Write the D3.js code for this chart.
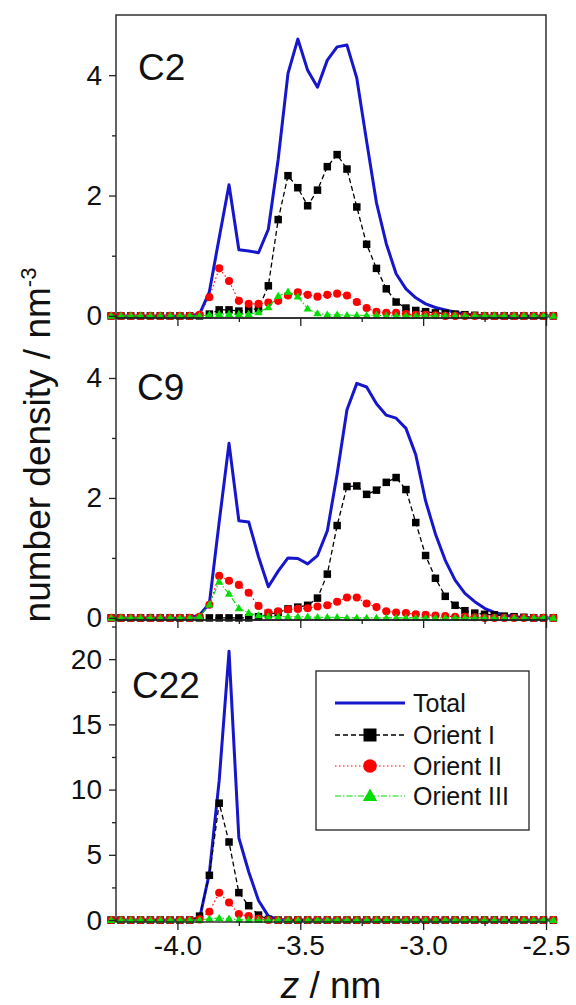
<!DOCTYPE html>
<html>
<head>
<meta charset="utf-8">
<script src="https://cdn.jsdelivr.net/npm/d3@7"></script>
<style>
  html, body { margin: 0; padding: 0; background: #fff; }
  svg { display: block; font-family: "Liberation Sans", Arial, sans-serif; }
</style>
</head>
<body>
<svg id="chart" width="576" height="1005"></svg>
<script>
// Position along the membrane normal (nm)
const zNm = [-4.27, -4.23, -4.19, -4.15, -4.11, -4.07, -4.03, -3.99, -3.95, -3.91,
             -3.87, -3.83, -3.79, -3.75, -3.71, -3.67, -3.63, -3.59, -3.55, -3.51,
             -3.47, -3.43, -3.39, -3.35, -3.31, -3.27, -3.23, -3.19, -3.15, -3.11,
             -3.07, -3.03, -2.99, -2.95, -2.91, -2.87, -2.83, -2.79, -2.75, -2.71,
             -2.67, -2.63, -2.59, -2.55, -2.51, -2.47];

// C2 number densities (nm^-3)
const c2Total   = [0, 0, 0, 0, 0, 0, 0, 0, 0, 0.03, 0.4, 1.3, 2.18, 1.1, 1.08, 1.05, 1.44, 2.6, 4.03, 4.6,
                   4.08, 3.8, 4.25, 4.47, 4.5, 3.95, 2.9, 1.88, 1.2, 0.7, 0.45, 0.3, 0.2, 0.14, 0.1, 0.06, 0.03, 0.01, 0, 0,
                   0, 0, 0, 0, 0, 0];
const c2Orient1 = [0, 0, 0, 0, 0, 0, 0, 0, 0, 0, 0.03, 0.1, 0.1, 0.08, 0.1, 0.12, 0.5, 1.6, 2.33, 2.13,
                   1.83, 2.09, 2.48, 2.68, 2.44, 1.81, 1.19, 0.79, 0.45, 0.23, 0.13, 0.09, 0.07, 0.05, 0.04, 0.03, 0.02, 0.01, 0, 0,
                   0, 0, 0, 0, 0, 0];
const c2Orient2 = [0, 0, 0, 0, 0, 0, 0, 0, 0, 0.02, 0.31, 0.79, 0.58, 0.25, 0.2, 0.2, 0.22, 0.25, 0.34, 0.39,
                   0.35, 0.32, 0.35, 0.37, 0.34, 0.23, 0.13, 0.07, 0.05, 0.05, 0.03, 0.02, 0.02, 0.01, 0, 0, 0, 0, 0, 0,
                   0, 0, 0, 0, 0, 0];
const c2Orient3 = [0, 0, 0, 0, 0, 0, 0, 0, 0, 0, 0.02, 0.03, 0.03, 0.03, 0.03, 0.06, 0.14, 0.33, 0.4, 0.32,
                   0.12, 0.04, 0.02, 0.02, 0.01, 0.01, 0.01, 0.01, 0, 0, 0, 0, 0, 0, 0, 0, 0, 0, 0, 0,
                   0, 0, 0, 0, 0, 0];

// C9 number densities (nm^-3)
const c9Total   = [0, 0, 0, 0, 0, 0, 0, 0, 0, 0.05, 0.24, 1.6, 2.91, 1.62, 1.6, 1.02, 0.52, 0.78, 1.0, 0.99,
                   0.9, 1.04, 1.45, 2.4, 3.47, 3.91, 3.85, 3.57, 3.38, 3.33, 3.16, 2.72, 1.95, 1.4, 0.96, 0.63, 0.41, 0.27, 0.16, 0.09,
                   0.05, 0.02, 0.01, 0, 0, 0];
const c9Orient1 = [0, 0, 0, 0, 0, 0, 0, 0, 0, 0, 0, 0, 0, 0, 0, 0.02, 0.06, 0.09, 0.15, 0.18,
                   0.21, 0.33, 0.73, 1.54, 2.19, 2.2, 2.06, 2.13, 2.26, 2.34, 2.14, 1.59, 1.04, 0.66, 0.36, 0.21, 0.12, 0.08, 0.06, 0.05,
                   0.03, 0.02, 0.01, 0, 0, 0];
const c9Orient2 = [0, 0, 0, 0, 0, 0, 0, 0, 0, 0.02, 0.22, 0.7, 0.62, 0.55, 0.42, 0.2, 0.09, 0.11, 0.14, 0.15,
                   0.16, 0.19, 0.21, 0.27, 0.34, 0.34, 0.24, 0.18, 0.11, 0.09, 0.08, 0.06, 0.05, 0.04, 0.03, 0.02, 0.02, 0.01, 0, 0,
                   0, 0, 0, 0, 0, 0];
const c9Orient3 = [0, 0, 0, 0, 0, 0, 0, 0, 0, 0.02, 0.22, 0.6, 0.4, 0.16, 0.08, 0.04, 0.02, 0.02, 0.02, 0.02,
                   0.02, 0.01, 0.01, 0.01, 0, 0, 0, 0, 0, 0, 0, 0, 0, 0, 0, 0, 0, 0, 0, 0,
                   0, 0, 0, 0, 0, 0];

// C22 number densities (nm^-3)
const c22Total   = [0, 0, 0, 0, 0, 0, 0, 0, 0, 0.1, 3.6, 10.7, 20.6, 6.3, 3.7, 1.5, 0.3, 0.05, 0, 0,
                    0, 0, 0, 0, 0, 0, 0, 0, 0, 0, 0, 0, 0, 0, 0, 0, 0, 0, 0, 0,
                    0, 0, 0, 0, 0, 0];
const c22Orient1 = [0, 0, 0, 0, 0, 0, 0, 0, 0, 0.3, 3.43, 8.96, 5.98, 2.1, 1.1, 0.38, 0.05, 0, 0, 0,
                    0, 0, 0, 0, 0, 0, 0, 0, 0, 0, 0, 0, 0, 0, 0, 0, 0, 0, 0, 0,
                    0, 0, 0, 0, 0, 0];
const c22Orient2 = [0, 0, 0, 0, 0, 0, 0, 0, 0, 0.05, 0.64, 2.09, 1.35, 0.46, 0.3, 0.1, 0, 0, 0, 0,
                    0, 0, 0, 0, 0, 0, 0, 0, 0, 0, 0, 0, 0, 0, 0, 0, 0, 0, 0, 0,
                    0, 0, 0, 0, 0, 0];
const c22Orient3 = [0, 0, 0, 0, 0, 0, 0, 0, 0, 0, 0.1, 0.15, 0.1, 0.03, 0, 0, 0, 0, 0, 0,
                    0, 0, 0, 0, 0, 0, 0, 0, 0, 0, 0, 0, 0, 0, 0, 0, 0, 0, 0, 0,
                    0, 0, 0, 0, 0, 0];

const panelNames = ["C2", "C9", "C22"];
const seriesNames = ["Total", "Orient I", "Orient II", "Orient III"];
const yDomains = [[-0.035, 5], [-0.035, 5], [-0.15, 23]];
const yMajorTicks = [[0, 2, 4], [0, 2, 4], [0, 5, 10, 15, 20]];
const yMinorTicks = [[1, 3], [1, 3], [2.5, 7.5, 12.5, 17.5, 22.5]];
const xDomain = [-4.25, -2.5];
const xMajorTicks = [-4.0, -3.5, -3.0, -2.5];
const xMinorTicks = [-3.75, -3.25, -2.75];

const panelSeries = [
  [c2Total, c2Orient1, c2Orient2, c2Orient3],
  [c9Total, c9Orient1, c9Orient2, c9Orient3],
  [c22Total, c22Orient1, c22Orient2, c22Orient3]
];

// ---- layout ----
const left = 116, right = 546;
const panelTop = [15, 318, 620];
const panelBottom = [318, 620, 922];

const styles = [
  { color: "#1616cc", width: 3, dash: null, marker: null },
  { color: "#000000", width: 1.3, dash: "5,3", marker: "square" },
  { color: "#ff0000", width: 1.1, dash: "1.5,2.5", marker: "circle" },
  { color: "#00dd00", width: 1.1, dash: "6,2,1.5,2", marker: "triangle" }
];

const svg = d3.select("#chart");
const x = d3.scaleLinear().domain(xDomain).range([left, right]);

function drawMarker(g, type, cx, cy, s, fill) {
  if (type === "square") {
    g.append("rect").attr("x", cx - s / 2).attr("y", cy - s / 2)
      .attr("width", s).attr("height", s).attr("fill", fill);
  } else if (type === "circle") {
    g.append("circle").attr("cx", cx).attr("cy", cy).attr("r", s / 2 + 0.3).attr("fill", fill);
  } else if (type === "triangle") {
    const h = s * 0.95, w = s * 1.1;
    g.append("path")
      .attr("d", `M${cx},${cy - h * 0.6}L${cx + w / 2},${cy + h * 0.4}L${cx - w / 2},${cy + h * 0.4}Z`)
      .attr("fill", fill);
  }
}

panelNames.forEach((name, p) => {
  const y = d3.scaleLinear().domain(yDomains[p]).range([panelBottom[p], panelTop[p]]);
  const g = svg.append("g");

  // series: total line first, then the orientation classes with markers
  panelSeries[p].forEach((vals, s) => {
    const st = styles[s];
    const pts = zNm.map((z, i) => ({ z, v: vals[i] }));
    const line = d3.line().x(d => x(d.z)).y(d => y(d.v));
    const path = g.append("path").datum(pts)
      .attr("d", line)
      .attr("fill", "none")
      .attr("stroke", st.color)
      .attr("stroke-width", st.width)
      .attr("stroke-linejoin", "round");
    if (st.dash) path.attr("stroke-dasharray", st.dash);
    if (st.marker) {
      const mg = g.append("g");
      pts.forEach(d => drawMarker(mg, st.marker, x(d.z), y(d.v), 7.5, st.color));
    }
  });

  // frame
  svg.append("rect")
    .attr("x", left).attr("y", panelTop[p])
    .attr("width", right - left).attr("height", panelBottom[p] - panelTop[p])
    .attr("fill", "none").attr("stroke", "#222").attr("stroke-width", 1.4);

  // y axis
  const yAxis = svg.append("g").attr("transform", `translate(${left},0)`)
    .call(d3.axisLeft(y).tickValues(yMajorTicks[p]).tickSize(7).tickPadding(7).tickFormat(d3.format("d")));
  const yMinor = svg.append("g").attr("transform", `translate(${left},0)`)
    .call(d3.axisLeft(y).tickValues(yMinorTicks[p]).tickSize(4).tickFormat(""));

  // x axis at the bottom of each panel
  const xAxis = svg.append("g").attr("transform", `translate(0,${panelBottom[p]})`)
    .call(d3.axisBottom(x).tickValues(xMajorTicks).tickSize(8).tickPadding(5)
      .tickFormat(p === 2 ? (d => d.toFixed(1)) : ""));
  const xMinor = svg.append("g").attr("transform", `translate(0,${panelBottom[p]})`)
    .call(d3.axisBottom(x).tickValues(xMinorTicks).tickSize(4).tickFormat(""));

  [yAxis, yMinor, xAxis, xMinor].forEach(a => {
    a.select(".domain").remove();
    a.selectAll("line").attr("stroke", "#222").attr("stroke-width", 1.3);
    a.selectAll("text").attr("font-size", 28).attr("fill", "#111")
      .attr("font-family", "'Liberation Sans', Arial, sans-serif");
  });

  // panel name
  const labelPos = [[138, 80], [137, 400], [132, 698]];
  svg.append("text").attr("x", labelPos[p][0]).attr("y", labelPos[p][1])
    .attr("font-size", 37).attr("fill", "#111").text(name);
});

// legend
const lg = svg.append("g");
lg.append("rect").attr("x", 316).attr("y", 671).attr("width", 213).attr("height", 159)
  .attr("fill", "#fff").attr("stroke", "#222").attr("stroke-width", 1.3);
const legendY = [703, 735, 766, 796];
seriesNames.forEach((n, s) => {
  const st = styles[s];
  const ly = legendY[s];
  const l = lg.append("line").attr("x1", 335).attr("x2", 405).attr("y1", ly).attr("y2", ly)
    .attr("stroke", st.color).attr("stroke-width", st.width);
  if (st.dash) l.attr("stroke-dasharray", st.dash);
  if (st.marker) drawMarker(lg, st.marker, 370, ly, 13, st.color);
  lg.append("text").attr("x", 413).attr("y", ly + 8.5).attr("font-size", 25).attr("fill", "#111").text(n);
});

// axis titles
const xt = svg.append("text").attr("x", 331).attr("y", 998).attr("text-anchor", "middle")
  .attr("font-size", 37).attr("fill", "#111");
xt.append("tspan").attr("font-style", "italic").text("z");
xt.append("tspan").text(" / nm");

const yt = svg.append("text").attr("transform", "translate(50,445) rotate(-90)")
  .attr("text-anchor", "middle").attr("font-size", 37).attr("fill", "#111");
yt.append("tspan").text("number density / nm");
yt.append("tspan").attr("font-size", 22).attr("dy", -14).text("-3");
</script>
</body>
</html>
